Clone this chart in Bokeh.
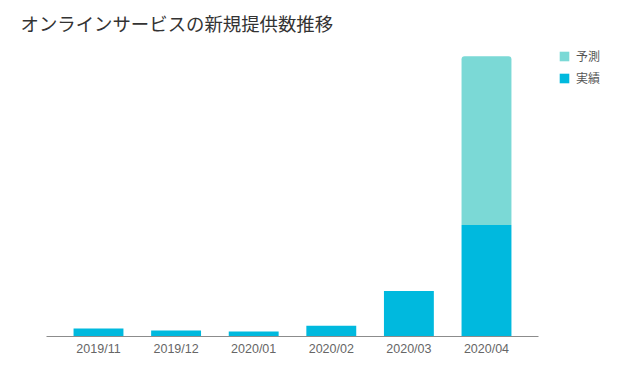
from bokeh.plotting import figure
from bokeh.models import Range1d, ColumnDataSource, Legend, LegendItem, FixedTicker
from bokeh.embed import file_html
from bokeh.resources import INLINE

months = ["2019/11", "2019/12", "2020/01", "2020/02", "2020/03", "2020/04"]
actual = [8, 6, 5, 11, 46, 113]
forecast = [0, 0, 0, 0, 0, 171]
series = ["実績", "予測"]
colors = ["#00b9de", "#7bd9d6"]

idx = list(range(len(months)))
src = ColumnDataSource(dict(x=idx, actual=actual, forecast=forecast))

p = figure(width=610, height=358, output_backend="svg", toolbar_location=None,
           x_range=Range1d(-0.670, 6.598),
           y_range=Range1d(0, 298),
           min_border_left=46, min_border_right=0, min_border_top=40, min_border_bottom=20)

r = p.vbar_stack(["actual", "forecast"], x="x", width=0.643, source=src,
                 color=colors, line_color=None)
r[1].glyph.border_radius = (3, 3, 0, 0)

p.title.text = "オンラインサービスの新規提供数推移"
p.title.text_font = "Noto Sans CJK JP"
p.title.text_font_size = "18.4px"
p.title.text_font_style = "normal"
p.title.text_color = "#333333"
p.title.offset = -26
p.title.standoff = 14

p.yaxis.visible = False
p.xgrid.visible = False
p.ygrid.visible = False
p.outline_line_color = None
p.xaxis.ticker = FixedTicker(ticks=idx)
p.xaxis.major_label_overrides = {i: m for i, m in zip(idx, months)}
p.xaxis.bounds = (-0.670, len(months) - 0.330)
p.xaxis.axis_line_color = "#8c8c8c"
p.xaxis.major_tick_line_color = None
p.xaxis.minor_tick_line_color = None
p.xaxis.major_tick_out = 0
p.xaxis.major_tick_in = 0
p.xaxis.major_label_text_font = "Liberation Sans"
p.xaxis.major_label_text_font_size = "12.5px"
p.xaxis.major_label_text_color = "#666666"
p.xaxis.major_label_standoff = 5

legend = Legend(items=[LegendItem(label=series[1], renderers=[r[1]]),
                       LegendItem(label=series[0], renderers=[r[0]])],
                location=(512, 250), margin=0, padding=10, border_line_color=None,
                background_fill_alpha=0, glyph_width=12, glyph_height=12,
                label_height=16, spacing=5, label_standoff=6,
                label_text_font="Noto Sans CJK JP", label_text_font_size="12px",
                label_text_color="#555555")
p.add_layout(legend)

open("out.html", "w").write(file_html(p, INLINE))
